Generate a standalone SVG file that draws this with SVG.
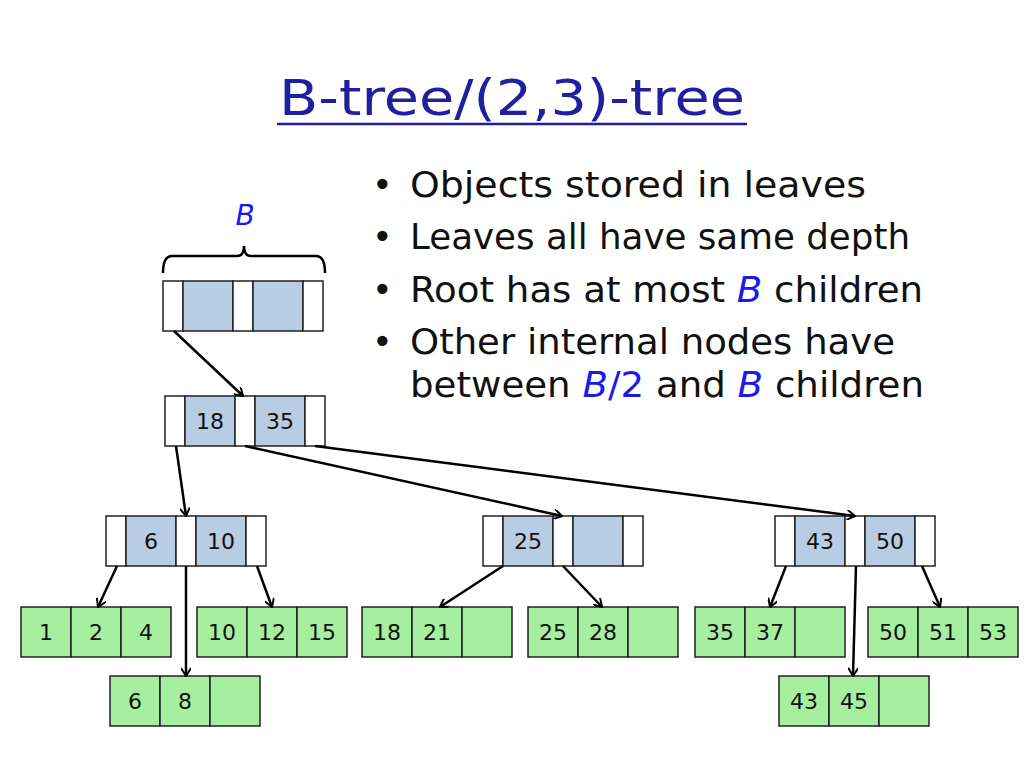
<svg xmlns="http://www.w3.org/2000/svg" width="1024" height="768" viewBox="0 0 1024 768">
<defs>
<marker id="ah" markerWidth="10" markerHeight="10" refX="9" refY="5" orient="auto" markerUnits="userSpaceOnUse"><path d="M1,0 L9,5 L1,10" fill="none" stroke="#000" stroke-width="2"/></marker>
</defs>
<style>
text{font-family:"DejaVu Sans","Open Sans",sans-serif}
.w{fill:#fff;stroke:#222;stroke-width:1.5}
.b{fill:#b8cce4;stroke:#222;stroke-width:1.5}
.g{fill:#a6eea0;stroke:#222;stroke-width:1.5}
.n{font-size:22px;text-anchor:middle;fill:#111}
.t{font-size:35px;fill:#111}
.c{stroke:#000;stroke-width:2.5;fill:none;marker-end:url(#ah)}
.blue{fill:#1a1aee;font-style:italic}
</style>
<rect width="1024" height="768" fill="#fff"/>
<text x="279" y="115" font-size="50" textLength="466" lengthAdjust="spacingAndGlyphs" fill="#1f1fa0">B-tree/(2,3)-tree</text>
<line x1="277" y1="124" x2="747" y2="124" stroke="#1f1fa0" stroke-width="2.5"/>
<g id="bullets" class="t">
<text x="372" y="197" class="t">•</text><text x="410" y="197" class="t" textLength="456" lengthAdjust="spacingAndGlyphs">Objects stored in leaves</text>
<text x="372" y="249" class="t">•</text><text x="410" y="249" class="t" textLength="500" lengthAdjust="spacingAndGlyphs">Leaves all have same depth</text>
<text x="372" y="302" class="t">•</text><text x="410" y="302" class="t" textLength="513" lengthAdjust="spacingAndGlyphs">Root has at most <tspan class="blue">B</tspan> children</text>
<text x="372" y="354" class="t">•</text><text x="410" y="354" class="t" textLength="485" lengthAdjust="spacingAndGlyphs">Other internal nodes have</text>
<text x="410" y="397" class="t" textLength="514" lengthAdjust="spacingAndGlyphs">between <tspan class="blue">B</tspan><tspan fill="#1a1aee">/2</tspan> and <tspan class="blue">B</tspan> children</text>
</g>
<g id="brace">
<text x="245" y="225" font-size="28" text-anchor="middle" class="blue">B</text>
<path d="M163,273 Q163,256 172,256 L237,256 Q244,256 244,246 Q244,256 251,256 L316,256 Q325,256 325,273" fill="none" stroke="#000" stroke-width="2.5"/>
</g>
<g id="root"><rect x="163" y="281" width="20" height="50" class="w"/><rect x="183" y="281" width="50" height="50" class="b"/><rect x="233" y="281" width="20" height="50" class="w"/><rect x="253" y="281" width="50" height="50" class="b"/><rect x="303" y="281" width="20" height="50" class="w"/></g>
<g id="n1835"><rect x="165" y="396" width="20" height="50" class="w"/><rect x="185" y="396" width="50" height="50" class="b"/><rect x="235" y="396" width="20" height="50" class="w"/><rect x="255" y="396" width="50" height="50" class="b"/><rect x="305" y="396" width="20" height="50" class="w"/><text x="210" y="429" class="n">18</text><text x="280" y="429" class="n">35</text></g>
<g id="n610"><rect x="106" y="516" width="20" height="50" class="w"/><rect x="126" y="516" width="50" height="50" class="b"/><rect x="176" y="516" width="20" height="50" class="w"/><rect x="196" y="516" width="50" height="50" class="b"/><rect x="246" y="516" width="20" height="50" class="w"/><text x="151" y="549" class="n">6</text><text x="221" y="549" class="n">10</text></g>
<g id="n25"><rect x="483" y="516" width="20" height="50" class="w"/><rect x="503" y="516" width="50" height="50" class="b"/><rect x="553" y="516" width="20" height="50" class="w"/><rect x="573" y="516" width="50" height="50" class="b"/><rect x="623" y="516" width="20" height="50" class="w"/><text x="528" y="549" class="n">25</text></g>
<g id="n4350"><rect x="775" y="516" width="20" height="50" class="w"/><rect x="795" y="516" width="50" height="50" class="b"/><rect x="845" y="516" width="20" height="50" class="w"/><rect x="865" y="516" width="50" height="50" class="b"/><rect x="915" y="516" width="20" height="50" class="w"/><text x="820" y="549" class="n">43</text><text x="890" y="549" class="n">50</text></g>
<g id="l124"><rect x="21" y="607" width="50" height="50" class="g"/><rect x="71" y="607" width="50" height="50" class="g"/><rect x="121" y="607" width="50" height="50" class="g"/><text x="46" y="640" class="n">1</text><text x="96" y="640" class="n">2</text><text x="146" y="640" class="n">4</text></g>
<g id="l101215"><rect x="197" y="607" width="50" height="50" class="g"/><rect x="247" y="607" width="50" height="50" class="g"/><rect x="297" y="607" width="50" height="50" class="g"/><text x="222" y="640" class="n">10</text><text x="272" y="640" class="n">12</text><text x="322" y="640" class="n">15</text></g>
<g id="l68"><rect x="110" y="676" width="50" height="50" class="g"/><rect x="160" y="676" width="50" height="50" class="g"/><rect x="210" y="676" width="50" height="50" class="g"/><text x="135" y="709" class="n">6</text><text x="185" y="709" class="n">8</text></g>
<g id="l1821"><rect x="362" y="607" width="50" height="50" class="g"/><rect x="412" y="607" width="50" height="50" class="g"/><rect x="462" y="607" width="50" height="50" class="g"/><text x="387" y="640" class="n">18</text><text x="437" y="640" class="n">21</text></g>
<g id="l2528"><rect x="528" y="607" width="50" height="50" class="g"/><rect x="578" y="607" width="50" height="50" class="g"/><rect x="628" y="607" width="50" height="50" class="g"/><text x="553" y="640" class="n">25</text><text x="603" y="640" class="n">28</text></g>
<g id="l3537"><rect x="695" y="607" width="50" height="50" class="g"/><rect x="745" y="607" width="50" height="50" class="g"/><rect x="795" y="607" width="50" height="50" class="g"/><text x="720" y="640" class="n">35</text><text x="770" y="640" class="n">37</text></g>
<g id="l505153"><rect x="868" y="607" width="50" height="50" class="g"/><rect x="918" y="607" width="50" height="50" class="g"/><rect x="968" y="607" width="50" height="50" class="g"/><text x="893" y="640" class="n">50</text><text x="943" y="640" class="n">51</text><text x="993" y="640" class="n">53</text></g>
<g id="l4345"><rect x="779" y="676" width="50" height="50" class="g"/><rect x="829" y="676" width="50" height="50" class="g"/><rect x="879" y="676" width="50" height="50" class="g"/><text x="804" y="709" class="n">43</text><text x="854" y="709" class="n">45</text></g>
<g id="connectors">
<line x1="174" y1="331" x2="243" y2="396" class="c"/>
<line x1="176" y1="446" x2="186" y2="516" class="c"/>
<line x1="245" y1="446" x2="562" y2="516" class="c"/>
<line x1="315" y1="446" x2="855" y2="516" class="c"/>
<line x1="117" y1="566" x2="98" y2="607" class="c"/>
<line x1="186" y1="566" x2="186" y2="676" class="c"/>
<line x1="257" y1="566" x2="272" y2="607" class="c"/>
<line x1="503" y1="566" x2="440" y2="607" class="c"/>
<line x1="563" y1="566" x2="602" y2="607" class="c"/>
<line x1="786" y1="566" x2="770" y2="607" class="c"/>
<line x1="856" y1="566" x2="853" y2="676" class="c"/>
<line x1="922" y1="566" x2="940" y2="607" class="c"/>
</g>
</svg>
